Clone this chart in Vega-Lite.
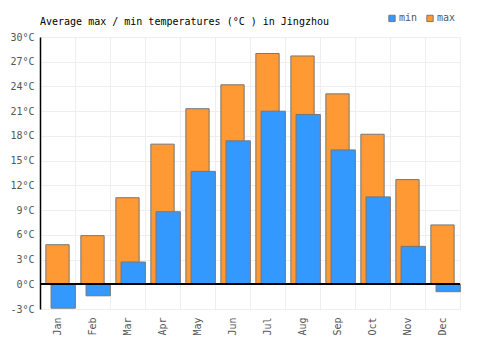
{
  "$schema": "https://vega.github.io/schema/vega-lite/v6.json",
  "width": 420,
  "height": 272,
  "autosize": {"type": "none"},
  "padding": {"left": 40, "top": 37, "right": 40, "bottom": 41},
  "background": "white",
  "title": {
    "text": "Average max / min temperatures (°C ) in Jingzhou",
    "anchor": "start",
    "frame": "group",
    "font": "DejaVu Sans Mono",
    "fontSize": 10,
    "fontWeight": "normal",
    "color": "#000000",
    "offset": 0,
    "dy": 14
  },
  "config": {
    "view": {"stroke": null},
    "axis": {
      "labelFont": "DejaVu Sans Mono",
      "labelFontSize": 10,
      "labelColor": "#555555",
      "gridColor": "#eeeeee",
      "gridWidth": 1
    },
    "legend": {
      "labelFont": "DejaVu Sans Mono",
      "labelFontSize": 10,
      "labelColor": "#555555"
    }
  },
  "data": {
    "values": [
      {"month": "Jan", "type": "max", "value": 4.8},
      {"month": "Feb", "type": "max", "value": 5.9},
      {"month": "Mar", "type": "max", "value": 10.5},
      {"month": "Apr", "type": "max", "value": 17.0},
      {"month": "May", "type": "max", "value": 21.3},
      {"month": "Jun", "type": "max", "value": 24.2},
      {"month": "Jul", "type": "max", "value": 28.0},
      {"month": "Aug", "type": "max", "value": 27.7},
      {"month": "Sep", "type": "max", "value": 23.1},
      {"month": "Oct", "type": "max", "value": 18.2},
      {"month": "Nov", "type": "max", "value": 12.7},
      {"month": "Dec", "type": "max", "value": 7.2},
      {"month": "Jan", "type": "min", "value": -2.9},
      {"month": "Feb", "type": "min", "value": -1.4},
      {"month": "Mar", "type": "min", "value": 2.7},
      {"month": "Apr", "type": "min", "value": 8.8},
      {"month": "May", "type": "min", "value": 13.7},
      {"month": "Jun", "type": "min", "value": 17.4},
      {"month": "Jul", "type": "min", "value": 21.0},
      {"month": "Aug", "type": "min", "value": 20.6},
      {"month": "Sep", "type": "min", "value": 16.3},
      {"month": "Oct", "type": "min", "value": 10.6},
      {"month": "Nov", "type": "min", "value": 4.6},
      {"month": "Dec", "type": "min", "value": -0.9}
    ]
  },
  "encoding": {
    "x": {
      "field": "month",
      "type": "nominal",
      "sort": ["Jan","Feb","Mar","Apr","May","Jun","Jul","Aug","Sep","Oct","Nov","Dec"],
      "scale": {"paddingInner": 0, "paddingOuter": 0},
      "axis": {
        "title": null,
        "labelAngle": -90,
        "tickBand": "extent",
        "ticks": false,
        "domain": false,
        "grid": true,
        "labelPadding": 8
      }
    },
    "y": {
      "field": "value",
      "type": "quantitative",
      "scale": {"domain": [-3, 30], "nice": false, "zero": false},
      "axis": {
        "title": null,
        "values": [-3,0,3,6,9,12,15,18,21,24,27,30],
        "labelExpr": "datum.value + '°C'",
        "domainColor": "#000000",
        "domainWidth": 1.5,
        "ticks": false,
        "labelPadding": 6,
        "grid": true
      }
    }
  },
  "layer": [
    {
      "transform": [{"filter": "datum.type == 'max'"}],
      "mark": {"type": "bar", "width": 23.3, "stroke": "#777777", "strokeWidth": 1},
      "encoding": {
        "color": {
          "field": "type",
          "type": "nominal",
          "scale": {"domain": ["min", "max"], "range": ["#3399ff", "#ff9933"]},
          "legend": {
            "title": null,
            "orient": "none",
            "direction": "horizontal",
            "legendX": 347,
            "legendY": -24,
            "symbolType": "square",
            "symbolSize": 40,
            "symbolStrokeColor": "#777777",
            "symbolStrokeWidth": 1,
            "labelOffset": 2,
            "columnPadding": 6
          }
        }
      }
    },
    {
      "transform": [{"filter": "datum.type == 'min'"}],
      "mark": {"type": "bar", "width": 24.3, "xOffset": 5.7, "stroke": "#777777", "strokeWidth": 1},
      "encoding": {
        "color": {"field": "type", "type": "nominal"}
      }
    },
    {
      "mark": {"type": "rule", "color": "#000000", "strokeWidth": 1.5},
      "encoding": {"y": {"datum": 0}, "x": null}
    }
  ]
}
